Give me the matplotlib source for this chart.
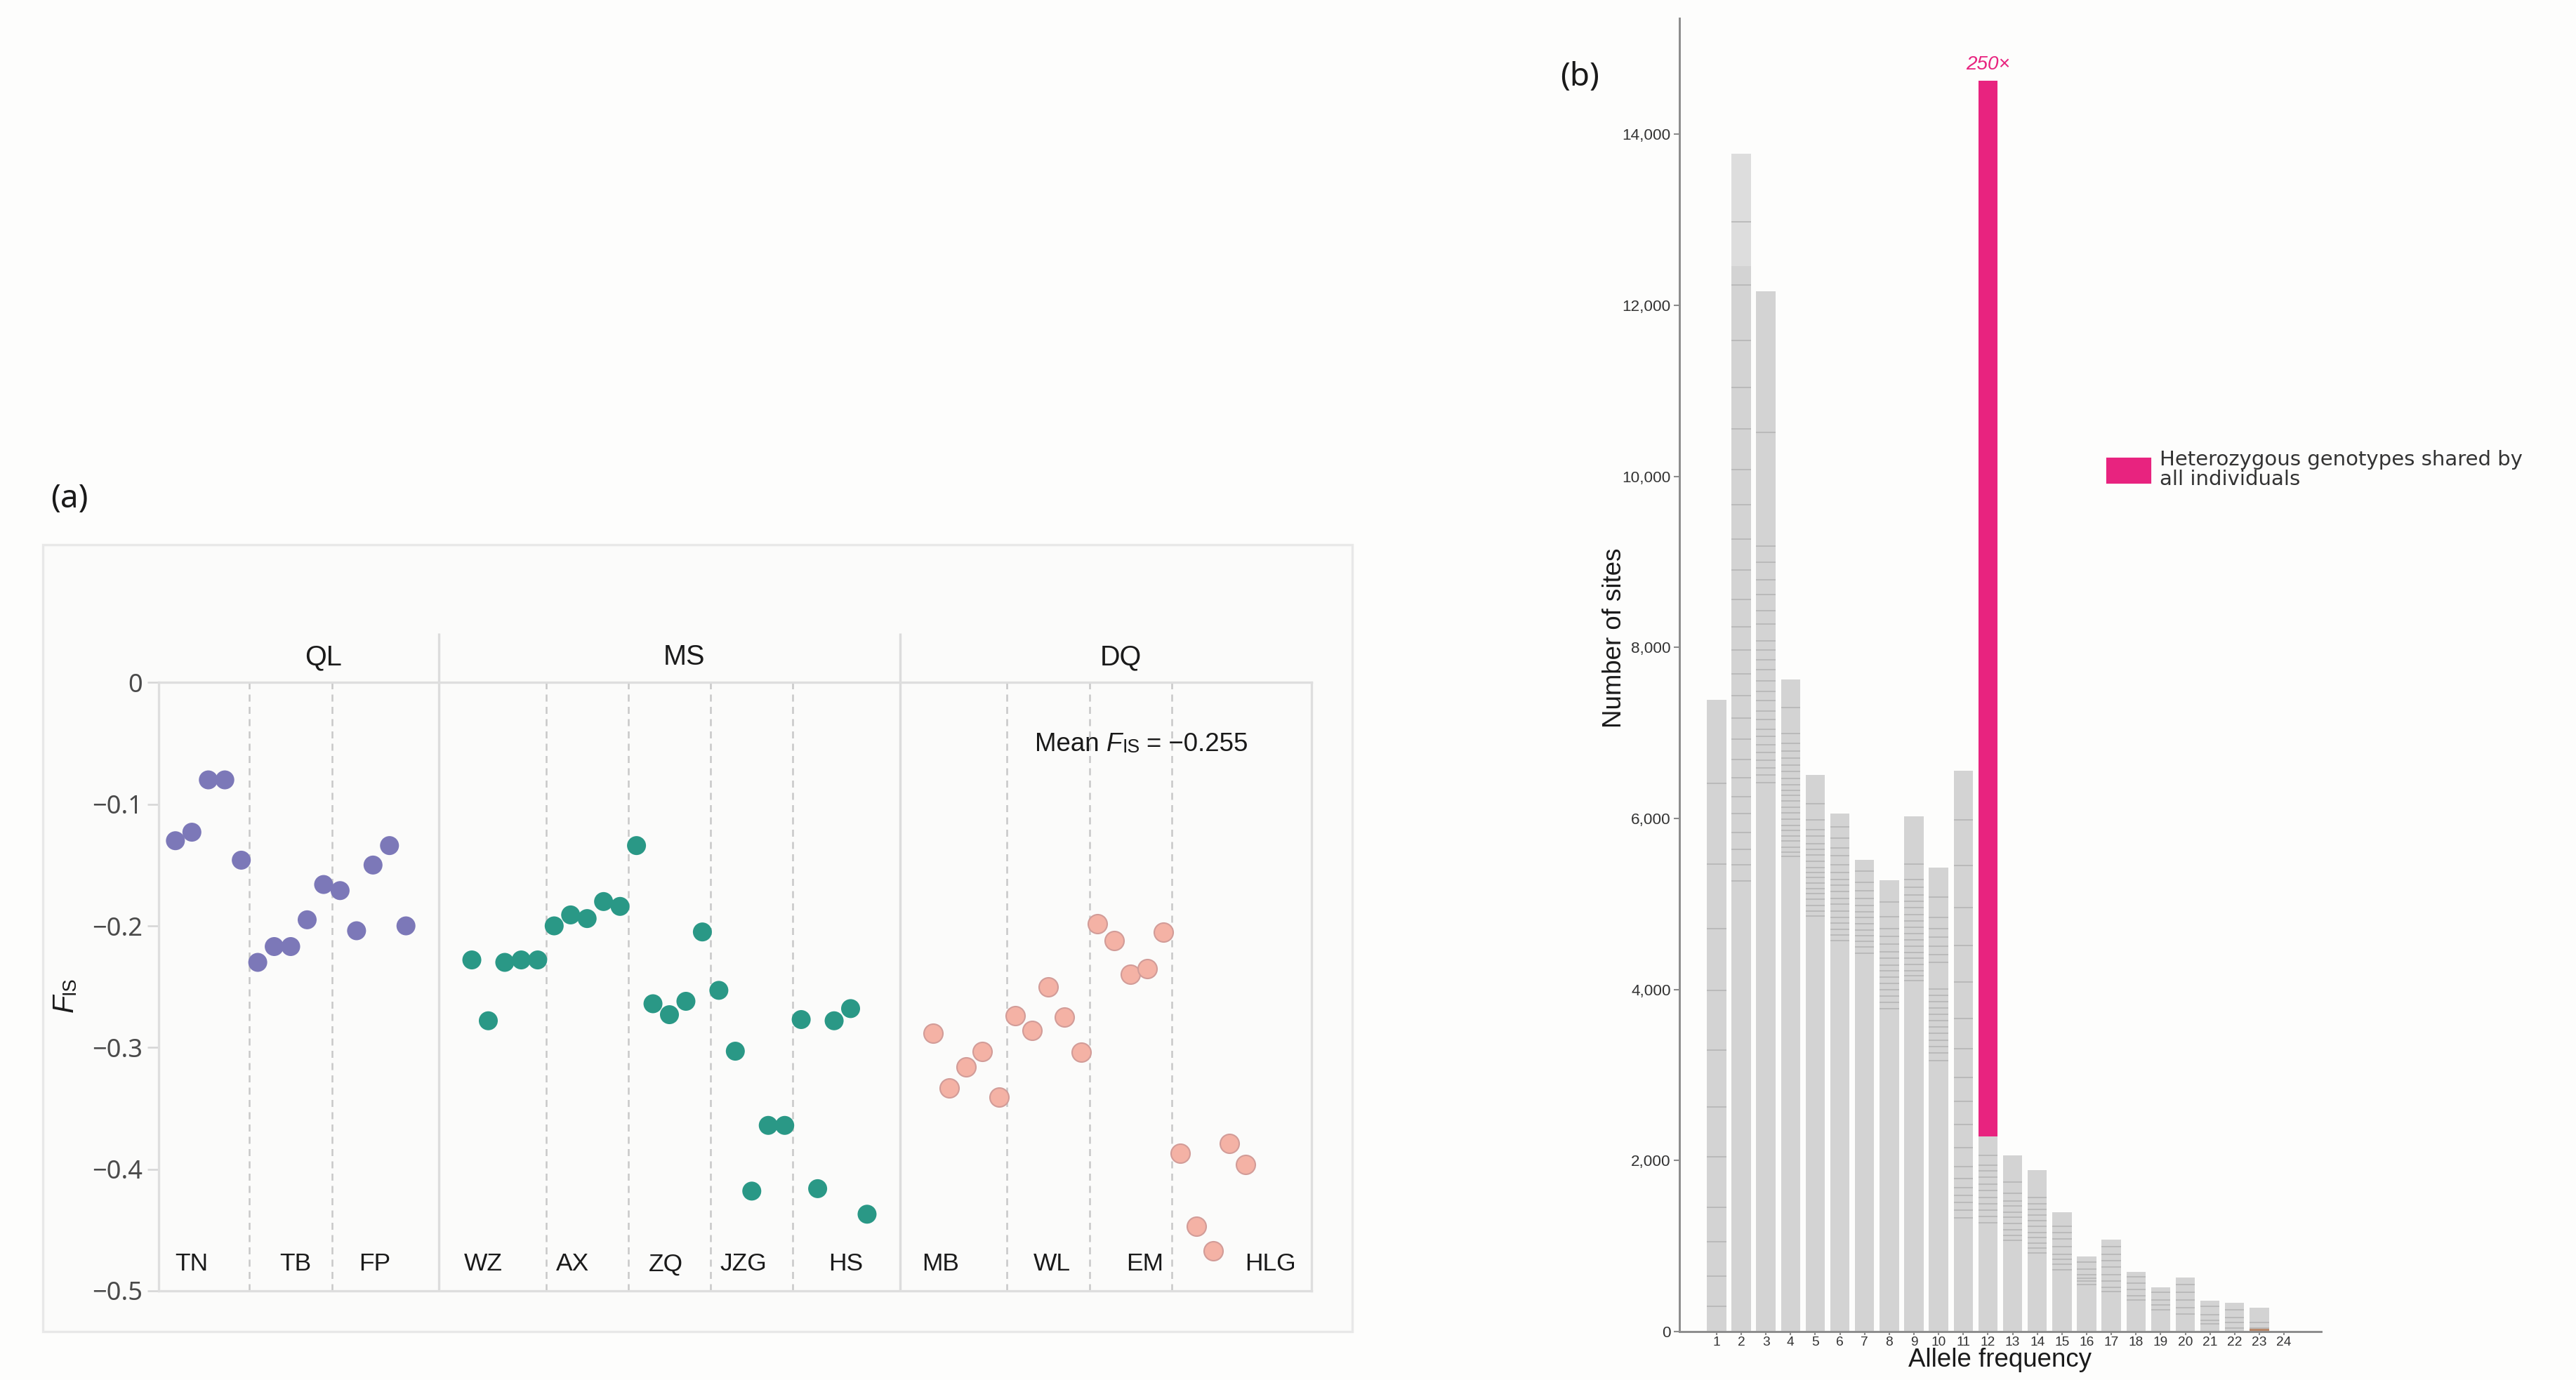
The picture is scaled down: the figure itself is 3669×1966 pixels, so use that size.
import matplotlib.pyplot as plt
from matplotlib.patches import Rectangle, Patch

# ---------------- Panel (a): individual F_IS values ---------------- #
fis_TN = [-0.130, -0.123, -0.080, -0.080, -0.146]
fis_TB = [-0.230, -0.217, -0.217, -0.195, -0.166]
fis_FP = [-0.171, -0.204, -0.150, -0.134, -0.200]
fis_WZ = [-0.228, -0.278, -0.230, -0.228, -0.228]
fis_AX = [-0.200, -0.191, -0.194, -0.180, -0.184]
fis_ZQ = [-0.134, -0.264, -0.273, -0.262, -0.205]
fis_JZG = [-0.253, -0.303, -0.418, -0.364, -0.364]
fis_HS = [-0.277, -0.416, -0.278, -0.268, -0.437]
fis_MB = [-0.288, -0.333, -0.316, -0.303, -0.341]
fis_WL = [-0.274, -0.286, -0.250, -0.275, -0.304]
fis_EM = [-0.198, -0.212, -0.240, -0.235, -0.205]
fis_HLG = [-0.387, -0.447, -0.467, -0.379, -0.396]

region_names = ["QL", "MS", "DQ"]
region_pops = [["TN", "TB", "FP"],
               ["WZ", "AX", "ZQ", "JZG", "HS"],
               ["MB", "WL", "EM", "HLG"]]
region_values = [[fis_TN, fis_TB, fis_FP],
                 [fis_WZ, fis_AX, fis_ZQ, fis_JZG, fis_HS],
                 [fis_MB, fis_WL, fis_EM, fis_HLG]]
mean_fis = -0.255
yticks_a = [0, -0.1, -0.2, -0.3, -0.4, -0.5]

# ---------------- Panel (b): allele frequency spectrum ---------------- #
allele_freq = [1, 2, 3, 4, 5, 6, 7, 8, 9, 10, 11, 12,
               13, 14, 15, 16, 17, 18, 19, 20, 21, 22, 23, 24]
site_counts = [7383, 13775, 12167, 7629, 6507, 6055, 5519, 5279, 6027, 5424, 6557, 2283,
               2059, 1889, 1395, 878, 1072, 700, 520, 629, 362, 336, 277, 0]
bar2_pale_from = 12460     # upper part of bar 2 is lighter
shared_het_top = 14628     # top of the heterozygous-shared block on bar 12
bar23_other = 30           # small brown block at the foot of bar 23
shared_het_label = "250×"
yticks_b = [0, 2000, 4000, 6000, 8000, 10000, 12000, 14000]

# boundaries of the stacked sub-blocks inside each bar
stripes = [
    [296, 647, 1049, 1456, 2043, 2629, 3290, 3990, 4715, 5463, 6410],
    [5268, 5455, 5642, 5838, 6055, 6256, 6479, 6686, 6926, 7177, 7439, 7690, 7969, 8242,
     8558, 8902, 9265, 9670, 10080, 10552, 11037, 11589, 12234, 12974],
    [6422, 6507, 6591, 6679, 6774, 6862, 6957, 7045, 7155, 7258, 7375, 7489, 7606, 7742,
     7858, 7969, 8080, 8275, 8431, 8619, 8794, 8996, 9185, 10514],
    [5554, 5609, 5664, 5737, 5792, 5858, 5920, 5993, 6067, 6129, 6202, 6268, 6331, 6397,
     6470, 6551, 6624, 6708, 6789, 6880, 6994, 7295],
    [4857, 4920, 4986, 5059, 5125, 5176, 5242, 5308, 5370, 5425, 5499, 5572, 5638, 5708,
     5792, 5872, 5986, 6169],
    [4571, 4637, 4700, 4773, 4846, 4920, 4997, 5066, 5143, 5217, 5286, 5370, 5462, 5561,
     5656, 5766, 5902],
    [4425, 4498, 4564, 4627, 4692, 4766, 4839, 4905, 4986, 5066, 5151, 5249, 5381],
    [3776, 3849, 3923, 3996, 4069, 4143, 4216, 4282, 4363, 4443, 4527, 4619, 4711, 4850, 5022],
    [4106, 4161, 4216, 4289, 4363, 4436, 4509, 4582, 4656, 4729, 4802, 4876, 4956, 5030,
     5103, 5194, 5286, 5469],
    [3171, 3256, 3336, 3410, 3490, 3563, 3637, 3710, 3783, 3857, 3930, 4003, 4319, 4407,
     4509, 4612, 4711, 4846, 5077],
    [1328, 1418, 1512, 1596, 1680, 1791, 1931, 2154, 2420, 2690, 2970, 3310, 3663, 4084,
     4518, 4960, 5449, 5987],
    [1275, 1349, 1423, 1497, 1571, 1646, 1720, 1809, 1877, 1948, 2060],
    [1068, 1127, 1186, 1260, 1334, 1394, 1468, 1527, 1616, 1749],
    [919, 979, 1038, 1097, 1157, 1231, 1296, 1364, 1432, 1497, 1571],
    [721, 786, 845, 905, 993, 1082, 1157, 1231],
    [549, 593, 623, 667, 727, 815],
    [466, 519, 593, 667, 756, 830, 905, 993],
    [371, 416, 490, 564, 638],
    [252, 312, 371, 460],
    [208, 282, 371, 460, 549],
    [89, 134, 193, 297],
    [45, 104, 163, 252],
    [45, 104],
    [],
]

# ---------------- Style ---------------- #
region_colors = ["#7c78b8", "#2a9886", "#f4b2a5"]
region_edges = ["none", "none", "#d29c98"]
PINK = "#e8237f"
BAR_GREY = "#d3d3d3"
# label x offsets (in slot units) relative to each population's centre
label_shift = [[-1.0, 0.3, 0.1], [-1.3, -0.9, -0.2, -0.5, 0.7], [-1.55, 0.25, 0.85, 3.5]]
header_x = [10.0, 31.9, 58.4]

plt.rcParams['font.family'] = ['Liberation Sans', 'DejaVu Sans']
fig = plt.figure(figsize=(3669 / 300, 1966 / 300), dpi=300, facecolor="#fdfdfc")

# ---------------- Panel (a) ---------------- #
fig.add_artist(Rectangle((0.0165, 0.0351), 0.5085, 0.5702, transform=fig.transFigure,
                         facecolor="#fbfbfa", edgecolor="#e8e8e8", lw=0.8, zorder=-1))

ax = fig.add_axes([0.0617, 0.0646, 0.4475, 0.4408])
ax.set_facecolor("none")
ax.set_xlim(0, 70)
ax.set_ylim(-0.5, 0)

pos = 1
dash_x, solid_x = [], []
for r, (rname, pops, vals) in enumerate(zip(region_names, region_pops, region_values)):
    for p, (pname, v) in enumerate(zip(pops, vals)):
        xs = list(range(pos, pos + len(v)))
        ax.scatter(xs, v, s=42, color=region_colors[r], edgecolors=region_edges[r],
                   linewidths=0.5, zorder=3)
        ax.text(pos + (len(v) - 1) / 2 + label_shift[r][p], -0.478, pname,
                ha="center", va="center", fontsize=8.5, color="#1a1a1a")
        pos += len(v)
        if p < len(pops) - 1:
            dash_x.append(pos - 0.5)
    ax.text(header_x[r], 0.021, rname, ha="center", va="center", fontsize=9.5,
            color="#1a1a1a")
    if r < len(region_names) - 1:
        solid_x.append(pos + 1)
    pos += 3

ax.vlines(dash_x, -0.5, 0, colors="#c8c8c8", lw=0.6, linestyles=(0, (4, 3)), zorder=1)
ax.vlines(solid_x, -0.5, 0.0404, colors="#dcdcdc", lw=0.8, clip_on=False, zorder=1)

for s in ax.spines.values():
    s.set_color("#dedede")
    s.set_linewidth(0.8)
ax.set_xticks([])
ax.set_yticks(yticks_a)
ax.set_yticklabels(["0" if t == 0 else f"{t:.1f}".replace("-", "\u2212") for t in yticks_a],
                   family="Noto Sans", fontsize=8.7, color="#4a4a4a")
ax.tick_params(axis="y", length=3.8, width=0.6, color="#d5d5d5", pad=1.7)

# mean annotation
t1 = ax.text(53.2, -0.0507, "Mean", fontsize=8.8, ha="left", va="center", color="#1a1a1a")
t2 = ax.annotate("F", xy=(1, 0), xycoords=t1, xytext=(2.4, 0), textcoords="offset points",
                 ha="left", va="bottom", fontsize=8.8, style="italic", color="#1a1a1a")
t3 = ax.annotate("IS", xy=(1, 0), xycoords=t2, ha="left", va="bottom", fontsize=6.4,
                 color="#1a1a1a")
ax.annotate("= " + f"{mean_fis:.3f}".replace("-", "\u2212"), xy=(1, 0), xycoords=t3,
            xytext=(2.4, 0), textcoords="offset points", ha="left", va="bottom",
            fontsize=8.8, color="#1a1a1a")

# y label F_IS
tf = fig.text(0.0252, 0.2665, "F", rotation=90, ha="center", va="bottom", fontsize=10,
              style="italic", color="#1a1a1a")
ax.annotate("IS", xy=(1, 1), xycoords=tf, rotation=90, ha="right", va="bottom",
            fontsize=6.5, color="#1a1a1a", annotation_clip=False)

fig.text(0.027, 0.6383, "(a)", ha="center", va="center", fontsize=11, family="Noto Sans",
         color="#1a1a1a")

# ---------------- Panel (b) ---------------- #
bx = fig.add_axes([0.652, 0.0351, 0.249, 0.9517])
bx.set_facecolor("none")
bw = 0.78
bx.bar(allele_freq, site_counts, width=bw, color=BAR_GREY, zorder=2)
bx.bar(allele_freq[1], site_counts[1] - bar2_pale_from, bottom=bar2_pale_from, width=bw,
       color="#dddddd", zorder=2)
bx.bar(allele_freq[22], bar23_other, width=bw, color="#b98a6c", zorder=2)
bx.bar(allele_freq[11], shared_het_top - site_counts[11], bottom=site_counts[11], width=bw,
       color=PINK, zorder=2, label="Heterozygous genotypes shared by\nall individuals")
for x, lv in zip(allele_freq, stripes):
    if lv:
        bx.hlines(lv, x - bw / 2, x + bw / 2, colors="#b6b6b6", lw=0.4, zorder=3)

bx.text(allele_freq[11], 14815, shared_het_label, ha="center", va="center", fontsize=6.7,
        style="italic", color=PINK)

bx.set_xlim(-0.5, 25.5)
bx.set_ylim(0, 15357)
bx.spines["top"].set_visible(False)
bx.spines["right"].set_visible(False)
for s in ("left", "bottom"):
    bx.spines[s].set_color("#8c8c8c")
    bx.spines[s].set_linewidth(0.7)
bx.set_yticks(yticks_b)
bx.set_yticklabels([f"{v:,}" for v in yticks_b], fontsize=5.4, color="#333333")
bx.set_xticks(allele_freq)
bx.set_xticklabels([str(a) for a in allele_freq], fontsize=4.6, color="#333333")
bx.tick_params(axis="y", length=2, width=0.5, color="#8c8c8c", pad=1)
bx.tick_params(axis="x", length=1.2, width=0.5, color="#8c8c8c", pad=0.6)

bx.set_xlabel("Allele frequency", fontsize=8.8, color="#1a1a1a")
bx.xaxis.label.set_va("center")
bx.xaxis.set_label_coords(0.5, -0.0214)
bx.set_ylabel("Number of sites", fontsize=8.8, color="#1a1a1a")
bx.yaxis.label.set_va("center")
bx.yaxis.set_label_coords(-0.101, 0.528)

leg = bx.legend(handles=[Patch(color=PINK, label="Heterozygous genotypes shared by\nall individuals")],
                loc="upper left", bbox_to_anchor=(0.8182, 0.674), bbox_transform=fig.transFigure,
                frameon=False, prop={"family": "DejaVu Sans", "size": 7},
                handlelength=2.05, handleheight=1.37, handletextpad=0.5,
                borderpad=0, borderaxespad=0)
for t in leg.get_texts():
    t.set_color("#333333")
    t.set_linespacing(1.0)

fig.text(0.6133, 0.944, "(b)", ha="center", va="center", fontsize=11, family="Noto Sans",
         color="#1a1a1a")

fig.savefig("out.png", dpi=300, facecolor=fig.get_facecolor())
